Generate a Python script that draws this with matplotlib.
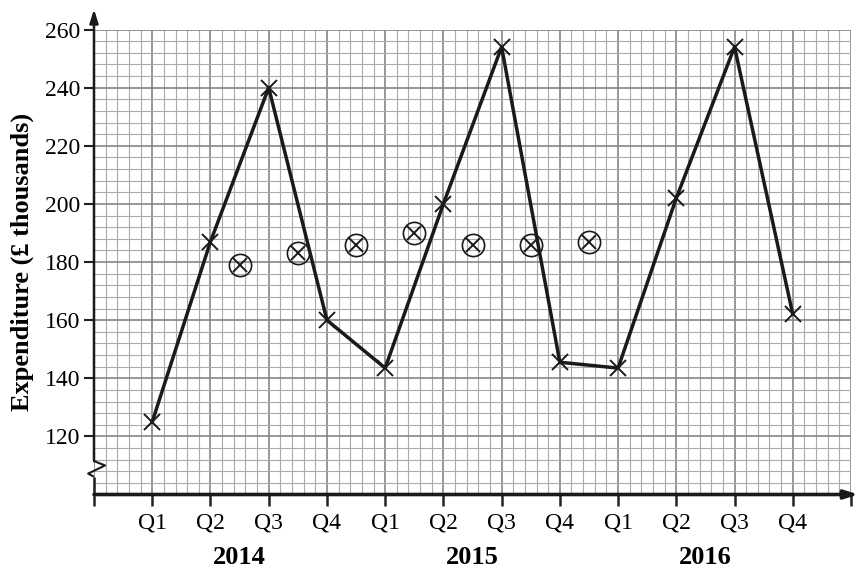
import numpy as np
import matplotlib
matplotlib.use('Agg')
import matplotlib.pyplot as plt
from matplotlib.transforms import blended_transform_factory

plt.rcParams['font.family'] = ['Liberation Serif', 'DejaVu Serif']

# quarterly expenditure (£ thousands), Q1 2014 .. Q4 2016
quarters = ['Q1', 'Q2', 'Q3', 'Q4'] * 3
years = ['2014', '2015', '2016']
expenditure = [125, 187, 240, 160, 143.5, 200, 254, 145.5, 143.5, 202, 254, 162]
# four-point moving averages, plotted between quarters
moving_avg = [179, 183, 186, 190, 186, 186, 187]

x_q = np.arange(1, len(expenditure) + 1)
x_ma = np.arange(len(moving_avg)) + 2.5

W, H = 859, 572
fig = plt.figure(figsize=(W / 100, H / 100), dpi=100)
left, right, top, bottom = 94, 851, 29.5, 494.5
ax = fig.add_axes([left / W, 1 - bottom / H, (right - left) / W, (bottom - top) / H])
ax.set_xlim(0, 13)
ax.set_ylim(100, 260)

# graph paper grid
ax.set_xticks(range(0, 14))
ax.set_xticks(np.arange(0, 13.01, 0.2), minor=True)
ax.set_yticks(range(120, 261, 20))
ax.set_yticks(range(100, 261, 4), minor=True)
ax.grid(which='major', color='#858585', lw=1.2)
ax.grid(which='minor', color='#aaaaaa', lw=0.8)
ax.set_axisbelow(True)
ax.tick_params(which='minor', length=0)

ax.set_xticklabels([''] + quarters + [''], fontsize=17)
ax.set_yticklabels([str(v) for v in range(120, 261, 20)], fontsize=17)
ax.tick_params(axis='x', which='major', direction='out', length=8, width=1.8, pad=5, color='#222222')
ax.tick_params(axis='y', which='major', direction='out', length=7, width=1.5, pad=3, color='#222222')

for s in ['top', 'right', 'left', 'bottom']:
    ax.spines[s].set_visible(False)

# axes with arrows and a break on the y axis
k = dict(color='#1a1a1a', clip_on=False, solid_capstyle='butt')
ax.plot([0, 0], [100, 106.1], lw=1.8, **k)
ax.plot([0, 0.19, -0.1, 0], [111.5, 110, 107.2, 106.1], lw=1.5, **k)
ax.annotate('', xy=(0, 267), xytext=(0, 111.5), annotation_clip=False,
            arrowprops=dict(arrowstyle='-|>,head_length=0.8,head_width=0.25', color='#1a1a1a', lw=1.8,
                            shrinkA=0, shrinkB=0))
ax.annotate('', xy=(13.13, 100), xytext=(0, 100), annotation_clip=False,
            arrowprops=dict(arrowstyle='-|>,head_length=0.8,head_width=0.25', color='#1a1a1a', lw=2.6,
                            shrinkA=0, shrinkB=0))

# data line and crosses
ax.plot(x_q, expenditure, color='#1a1a1a', lw=2.5, zorder=3)
ax.plot(x_q, expenditure, ls='none', marker='x', ms=12, mew=1.4, color='#1a1a1a', zorder=4)

# moving averages: circled crosses
ax.plot(x_ma, moving_avg, ls='none', marker='o', ms=16, mfc='none', mec='#1a1a1a', mew=1.2, zorder=4)
ax.plot(x_ma, moving_avg, ls='none', marker='x', ms=10, mew=1.4, color='#1a1a1a', zorder=4)

# year labels
tr = blended_transform_factory(ax.transData, fig.transFigure)
for i, yr in enumerate(years):
    ax.text(4 * i + 2.5, 1 - 558 / H, yr, transform=tr, ha='center', va='center',
            fontsize=19, fontweight='bold')

fig.text(22 / W, 1 - 262 / H, 'Expenditure (£ thousands)', rotation=90, ha='center', va='center',
         fontsize=19, fontweight='bold')

fig.savefig('out.png', dpi=100)
